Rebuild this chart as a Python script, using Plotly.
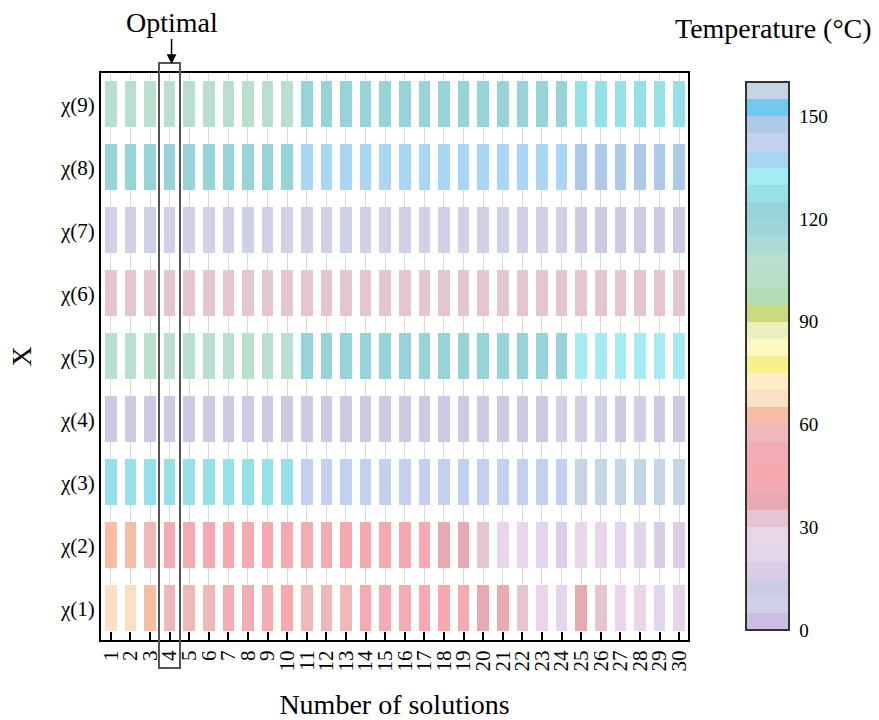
import plotly.graph_objects as go

# ---------------- data ----------------
solutions = list(range(1, 31))
x_tick_labels = [str(i) for i in solutions]
variables = list(range(1, 10))
y_tick_labels = ["χ(1)", "χ(2)", "χ(3)", "χ(4)", "χ(5)", "χ(6)", "χ(7)", "χ(8)", "χ(9)"]

chi1 = [67, 66, 63, 58, 57, 59, 53, 52, 54, 47, 58, 57, 56, 52, 53, 51, 48, 46, 43, 38,
        39, 33, 27, 22, 37, 32, 28, 27, 23, 22]
chi2 = [62, 63, 57, 51, 52, 48, 47, 46, 48, 44, 51, 50, 46, 47, 48, 46, 47, 38, 37, 33,
        27, 26, 22, 18, 28, 26, 23, 22, 17, 18]
chi3 = [127, 128, 126, 127, 128, 126, 127, 126, 128, 127, 142, 143, 141, 142, 143, 142, 141, 143, 142, 141,
        142, 143, 142, 141, 157, 158, 156, 157, 158, 157]
chi4 = [13, 12, 13, 12, 13, 12, 13, 12, 13, 12, 12, 13, 12, 13, 12, 13, 12, 13, 12, 13,
        12, 13, 12, 8, 7, 8, 12, 8, 13, 12]
chi5 = [107, 108, 106, 107, 108, 107, 106, 108, 107, 106, 122, 123, 121, 122, 123, 122, 121, 123, 122, 121,
        122, 123, 122, 121, 132, 133, 131, 132, 133, 132]
chi6 = [32, 33, 32, 33, 31, 32, 33, 32, 33, 32, 33, 32, 31, 32, 33, 32, 33, 32, 31, 32,
        33, 32, 33, 32, 31, 32, 33, 32, 33, 32]
chi7 = [7, 8, 7, 8, 7, 8, 7, 8, 7, 8, 7, 8, 7, 8, 7, 8, 7, 8, 7, 8,
        7, 8, 7, 8, 12, 13, 12, 13, 12, 13]
chi8 = [122, 123, 121, 122, 123, 122, 121, 123, 122, 121, 137, 138, 136, 137, 138, 137, 136, 138, 137, 136,
        137, 138, 137, 136, 147, 148, 146, 147, 148, 147]
chi9 = [107, 108, 106, 107, 108, 107, 106, 108, 107, 106, 122, 123, 121, 122, 123, 122, 121, 123, 122, 121,
        122, 123, 122, 121, 127, 128, 126, 127, 128, 127]

band_colors = [
    "#cbbde3", "#d0d0e6", "#cdcae4", "#dccde6", "#e3d5ea", "#ead6e9", "#e5c5d2", "#e8aab2",
    "#f5a9b0", "#f7a9b2", "#f4acb4", "#f0b9b9", "#f7bea5", "#fae0c4", "#fdeec5", "#f8f08c",
    "#fdf8bf", "#ecf0bf", "#c8dc7e", "#b3ddb4", "#b8e0c8", "#b9e0cf", "#acdad8", "#9fd5d8",
    "#96d4da", "#96e0e8", "#a4ebf3", "#a8d6f4", "#c3d0f0", "#adcbe8", "#6ecaee", "#c6d5e5",
]
z_min, z_max = 0, 160
cbar_ticks = [0, 30, 60, 90, 120, 150]

# ---------------- figure ----------------
FONT = "Liberation Serif, Times New Roman, serif"
n = len(band_colors)
colorscale = []
for i, c in enumerate(band_colors):
    colorscale.append([i / n, c])
    colorscale.append([(i + 1) / n, c])

z = [chi1, chi2, chi3, chi4, chi5, chi6, chi7, chi8, chi9]

W, H = 879, 720
ml, mr, mt, mb = 101, 191, 73, 80
pw = W - ml - mr
ph = H - mt - mb

fig = go.Figure()
fig.add_trace(go.Heatmap(
    x=solutions, y=variables, z=z,
    zmin=z_min, zmax=z_max, colorscale=colorscale,
    xgap=8, ygap=17,
    colorbar=dict(
        x=(746 - ml) / pw, xanchor="left", xpad=0,
        y=(H - mb - 630) / ph, yanchor="bottom", ypad=0,
        len=(630 - 82) / ph, lenmode="fraction",
        thickness=43, outlinewidth=2, outlinecolor="#333333",
        tickmode="array", tickvals=cbar_ticks, ticks="outside", ticklen=6,
        tickcolor="rgba(0,0,0,0)",
        tickfont=dict(family=FONT, size=19, color="black"),
    ),
    hovertemplate="x=%{x}<br>%{y}<br>T=%{z}<extra></extra>",
))

fig.update_xaxes(
    range=[0.5, 30.45], tickmode="array", tickvals=solutions, ticktext=x_tick_labels,
    tickangle=-90, ticks="inside", ticklen=8, tickwidth=2, tickcolor="black",
    showgrid=True, gridcolor="#d9d9d9", gridwidth=1, zeroline=False,
    showline=True, linewidth=2, linecolor="black", mirror=True, automargin=False,
    tickfont=dict(family=FONT, size=21, color="black"),
    title=dict(text="Number of solutions", font=dict(family=FONT, size=28, color="black"), standoff=26),
)
fig.update_yaxes(
    range=[0.5, 9.5], tickmode="array", tickvals=variables, ticktext=y_tick_labels,
    ticks="", showgrid=False, zeroline=False, automargin=False,
    showline=True, linewidth=2, linecolor="black", mirror=True,
    tickfont=dict(family=FONT, size=21, color="black"),
    title=dict(text="X", font=dict(family=FONT, size=28, color="black"), standoff=20),
)

fig.add_shape(type="rect", xref="x", yref="paper",
              x0=3.46, x1=4.53, y0=(H - mb - 668) / ph, y1=(H - mb - 63) / ph,
              line=dict(color="#555555", width=2), layer="above")

fig.add_annotation(x=4.1, xref="x", y=(H - mb - 64) / ph, yref="paper",
                   text="Optimal", showarrow=True, ax=0, ay=-42,
                   arrowhead=2, arrowsize=1.3, arrowwidth=1.5, arrowcolor="black", standoff=0,
                   font=dict(family=FONT, size=28, color="black"))
fig.add_annotation(x=(773 - ml) / pw, xref="paper", y=(H - mb - 28) / ph, yref="paper",
                   text="Temperature (°C)", showarrow=False, xanchor="center", yanchor="middle",
                   font=dict(family=FONT, size=28, color="black"))

fig.update_layout(
    width=W, height=H, autosize=False,
    margin=dict(l=ml, r=mr, t=mt, b=mb, autoexpand=False),
    paper_bgcolor="white", plot_bgcolor="white",
    font=dict(family=FONT, color="black"),
)

fig.write_html("out.html")
